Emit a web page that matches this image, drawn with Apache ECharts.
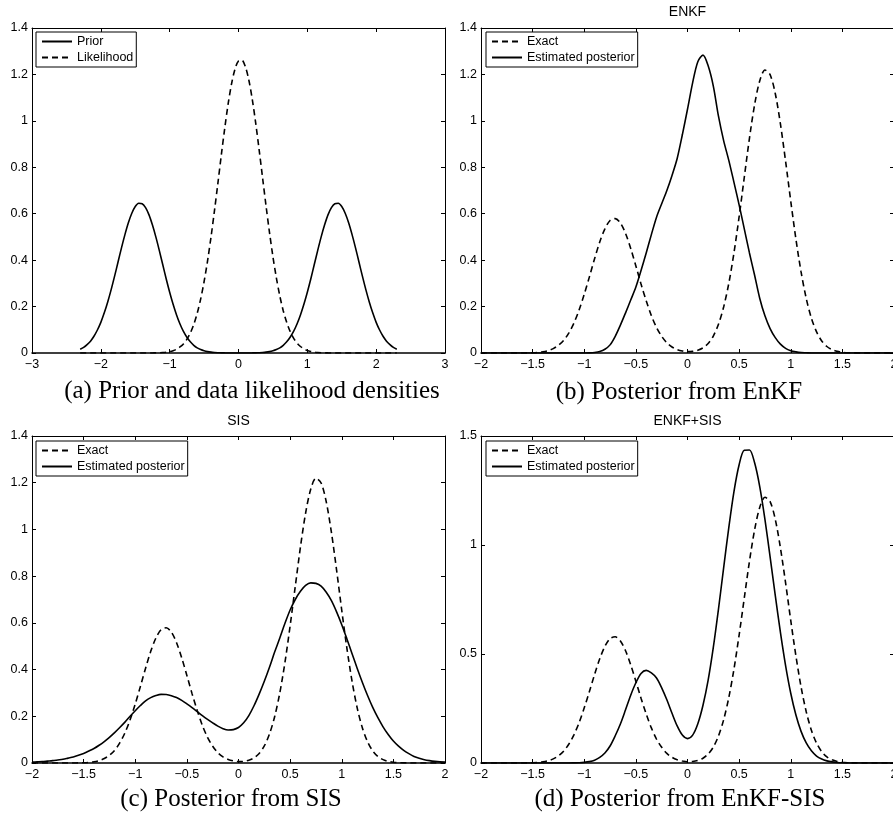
<!DOCTYPE html>
<html>
<head>
<meta charset="utf-8">
<script src="https://cdn.jsdelivr.net/npm/echarts@6/dist/echarts.min.js"></script>
<style>
  html, body { margin: 0; padding: 0; background: #fff; }
  #chart { width: 893px; height: 819px; }
</style>
</head>
<body>
<div id="chart"></div>
<script>
// panel (a): x grid, prior and likelihood densities
const xPrior = [-2.3, -2.25, -2.2, -2.15, -2.1, -2.05, -2.0, -1.95, -1.9, -1.85, -1.8, -1.75, -1.7, -1.65, -1.6,
  -1.55, -1.5, -1.45, -1.4, -1.35, -1.3, -1.25, -1.2, -1.15, -1.1, -1.05, -1.0, -0.95, -0.9, -0.85, -0.8, -0.75,
  -0.7, -0.65, -0.6, -0.55, -0.5, -0.45, -0.4, -0.35, -0.3, -0.25, -0.2, -0.15, -0.1, -0.05, 0, 0.05, 0.1, 0.15,
  0.2, 0.25, 0.3, 0.35, 0.4, 0.45, 0.5, 0.55, 0.6, 0.65, 0.7, 0.75, 0.8, 0.85, 0.9, 0.95, 1.0, 1.05, 1.1, 1.15,
  1.2, 1.25, 1.3, 1.35, 1.4, 1.45, 1.5, 1.55, 1.6, 1.65, 1.7, 1.75, 1.8, 1.85, 1.9, 1.95, 2.0, 2.05, 2.1, 2.15,
  2.2, 2.25, 2.3];
const prior = [0.016, 0.024, 0.036, 0.051, 0.072, 0.099, 0.132, 0.173, 0.220, 0.273,
  0.331, 0.392, 0.453, 0.510, 0.561, 0.602, 0.631, 0.645, 0.643, 0.626,
  0.595, 0.551, 0.499, 0.441, 0.380, 0.319, 0.262, 0.210, 0.164, 0.125,
  0.093, 0.068, 0.048, 0.033, 0.022, 0.0147, 0.0095, 0.0059, 0.0036, 0.0022,
  0.0013, 0.0007, 0.0004, 0.0002, 0.0001, 0.0001, 0,
  0.0001, 0.0001, 0.0002, 0.0004, 0.0007, 0.0013,
  0.0022, 0.0036, 0.0059, 0.0095, 0.0147, 0.022, 0.033, 0.048, 0.068, 0.093,
  0.125, 0.164, 0.210, 0.262, 0.319, 0.380, 0.441, 0.499, 0.551, 0.595,
  0.626, 0.643, 0.645, 0.631, 0.602, 0.561, 0.510, 0.453, 0.392, 0.331,
  0.273, 0.220, 0.173, 0.132, 0.099, 0.072, 0.051, 0.036, 0.024, 0.016];
const likelihood = [0, 0, 0, 0, 0, 0, 0, 0, 0, 0, 0, 0, 0, 0, 0, 0, 0, 0, 0, 0,
  0.0002, 0.0003, 0.0006, 0.0011, 0.002, 0.0035, 0.006, 0.010, 0.016, 0.026,
  0.039, 0.059, 0.086, 0.123, 0.171, 0.232, 0.307, 0.396, 0.498, 0.611,
  0.730, 0.852, 0.968, 1.074, 1.161, 1.224, 1.258, 1.261, 1.233, 1.176,
  1.093, 0.990, 0.875, 0.754, 0.634, 0.520, 0.415, 0.324, 0.246, 0.182,
  0.132, 0.093, 0.064, 0.043, 0.028, 0.018, 0.011, 0.0067, 0.004, 0.0023,
  0.0013, 0.0007, 0.0004, 0.0002,
  0, 0, 0, 0, 0, 0, 0, 0, 0, 0, 0, 0, 0, 0, 0, 0, 0, 0, 0];

// panels (b), (c), (d): shared x grid, exact posterior and the three estimates
const xPost = [-2.0, -1.95, -1.9, -1.85, -1.8, -1.75, -1.7, -1.65, -1.6, -1.55, -1.5, -1.45, -1.4, -1.35, -1.3,
  -1.25, -1.2, -1.15, -1.1, -1.05, -1.0, -0.95, -0.9, -0.85, -0.8, -0.75, -0.7, -0.65, -0.6, -0.55, -0.5, -0.45,
  -0.4, -0.35, -0.3, -0.25, -0.2, -0.15, -0.1, -0.05, 0, 0.05, 0.1, 0.15, 0.2, 0.25, 0.3, 0.35, 0.4, 0.45, 0.5,
  0.55, 0.6, 0.65, 0.7, 0.75, 0.8, 0.85, 0.9, 0.95, 1.0, 1.05, 1.1, 1.15, 1.2, 1.25, 1.3, 1.35, 1.4, 1.45, 1.5,
  1.55, 1.6, 1.65, 1.7, 1.75, 1.8, 1.85, 1.9, 1.95, 2.0];
const exact = [0, 0, 0, 0, 0, 0, 0,
  0.0001, 0.0002, 0.0005, 0.0012, 0.0026, 0.0053, 0.0102, 0.019, 0.033, 0.054,
  0.086, 0.129, 0.185, 0.253, 0.328, 0.406, 0.478, 0.535, 0.571, 0.579,
  0.560, 0.515, 0.450, 0.375, 0.297, 0.225, 0.161, 0.110, 0.072, 0.044,
  0.026, 0.015, 0.009, 0.006, 0.007, 0.012, 0.022, 0.041, 0.073, 0.124,
  0.198, 0.300, 0.431, 0.587, 0.757, 0.925, 1.070, 1.173, 1.219, 1.199,
  1.118, 0.987, 0.826, 0.654, 0.491, 0.349, 0.235, 0.150, 0.091, 0.052,
  0.028, 0.0145, 0.0071, 0.0033, 0.0014, 0.0006, 0.0002, 0.0001, 0, 0,
  0, 0, 0, 0];
const enkf = [0, 0, 0, 0, 0, 0, 0, 0, 0, 0, 0, 0, 0, 0, 0, 0, 0, 0, 0, 0, 0,
  0.0005, 0.002, 0.006, 0.016, 0.035, 0.072, 0.12, 0.173, 0.228, 0.284,
  0.355, 0.431, 0.51, 0.585, 0.643, 0.70, 0.765, 0.838, 0.94, 1.05,
  1.165, 1.255, 1.283, 1.237, 1.15, 1.02, 0.915, 0.83, 0.735, 0.638,
  0.535, 0.431, 0.335, 0.235, 0.16, 0.105, 0.066, 0.038, 0.02, 0.01,
  0.005, 0.002, 0.001, 0, 0, 0, 0, 0, 0, 0,
  0, 0, 0, 0, 0, 0, 0, 0, 0, 0];
const sis = [0.004, 0.005, 0.006, 0.008, 0.010, 0.013, 0.016, 0.021, 0.026, 0.033,
  0.041, 0.051, 0.062, 0.076, 0.092, 0.110, 0.130, 0.152, 0.175, 0.200,
  0.224, 0.246, 0.266, 0.280, 0.289, 0.294, 0.293, 0.288, 0.280, 0.268,
  0.253, 0.237, 0.220, 0.203, 0.187, 0.172, 0.158, 0.147, 0.141, 0.143,
  0.152, 0.172, 0.203, 0.245, 0.295, 0.35, 0.41, 0.475, 0.535, 0.598,
  0.655, 0.700, 0.735, 0.760, 0.771, 0.769, 0.757, 0.731, 0.695, 0.647,
  0.592, 0.531, 0.468, 0.405, 0.345, 0.289, 0.238, 0.194, 0.155, 0.122,
  0.094, 0.072, 0.054, 0.040, 0.028, 0.020, 0.014, 0.010, 0.007, 0.005,
  0.004];
const enkfSis = [0, 0, 0, 0, 0, 0, 0, 0, 0, 0, 0, 0, 0, 0, 0, 0, 0, 0,
  0.0005, 0.0012, 0.003, 0.0064, 0.013, 0.026, 0.046, 0.078, 0.125, 0.179,
  0.244, 0.311, 0.368, 0.411, 0.425, 0.413, 0.39, 0.345, 0.29, 0.228,
  0.17, 0.128, 0.112, 0.128, 0.18, 0.265, 0.38, 0.53, 0.706, 0.895,
  1.080, 1.245, 1.368, 1.435, 1.436, 1.377, 1.267, 1.118, 0.946, 0.769,
  0.599, 0.447, 0.320, 0.220, 0.145, 0.092, 0.056, 0.032, 0.018, 0.0097,
  0.005, 0.0024, 0.001, 0.0005,
  0, 0, 0, 0, 0, 0, 0, 0, 0];

const panelTitles = ['', 'ENKF', 'SIS', 'ENKF+SIS'];
const captions = ['(a) Prior and data likelihood densities', '(b) Posterior from EnKF',
  '(c) Posterior from SIS', '(d) Posterior from EnKF-SIS'];

const chart = echarts.init(document.getElementById('chart'), null, { renderer: 'canvas' });

const sans = 'Liberation Sans, Arial, sans-serif';
const grids = [
  { left: 32, top: 28, width: 413, height: 325, outerBoundsMode: 'none' },
  { left: 481, top: 28, width: 413, height: 325, outerBoundsMode: 'none' },
  { left: 32, top: 436, width: 413, height: 327, outerBoundsMode: 'none' },
  { left: 481, top: 436, width: 413, height: 327, outerBoundsMode: 'none' }
];
const xRange = [[-3, 3, 1], [-2, 2, 0.5], [-2, 2, 0.5], [-2, 2, 0.5]];
const yRange = [[0, 1.4, 0.2], [0, 1.4, 0.2], [0, 1.4, 0.2], [0, 1.5, 0.5]];

function fmt(v) {
  return String(parseFloat(v.toFixed(2))).replace('-', '\u2212');
}

const xAxes = [];
const yAxes = [];
grids.forEach(function (g, i) {
  ['bottom', 'top'].forEach(function (pos) {
    xAxes.push({
      type: 'value', gridIndex: i, position: pos,
      min: xRange[i][0], max: xRange[i][1], interval: xRange[i][2],
      axisLine: { onZero: false, lineStyle: { color: '#000', width: pos === 'bottom' ? 1.5 : 1 } },
      axisTick: { inside: true, length: 4, lineStyle: { color: '#000' } },
      axisLabel: { show: pos === 'bottom', margin: 5, color: '#000', fontSize: 12.5, fontFamily: sans, formatter: fmt },
      splitLine: { show: false }
    });
  });
  ['left', 'right'].forEach(function (pos) {
    yAxes.push({
      type: 'value', gridIndex: i, position: pos,
      min: yRange[i][0], max: yRange[i][1], interval: yRange[i][2],
      axisLine: { onZero: false, lineStyle: { color: '#000', width: 1 } },
      axisTick: { inside: true, length: 4, lineStyle: { color: '#000' } },
      axisLabel: { show: pos === 'left', margin: 4, color: '#000', fontSize: 12.5, fontFamily: sans, formatter: fmt },
      splitLine: { show: false }
    });
  });
});

function zip(xs, ys) {
  return xs.map(function (x, k) { return [x, ys[k]]; });
}

function curve(name, panel, xs, ys, dashed) {
  return {
    name: name, type: 'line',
    xAxisIndex: panel * 2, yAxisIndex: panel * 2,
    data: zip(xs, ys),
    symbol: 'none', showSymbol: false, smooth: 0.3,
    lineStyle: { color: '#000', width: 1.6, type: dashed ? [6, 4] : 'solid' },
    itemStyle: { color: '#000' },
    z: 3
  };
}

const series = [
  curve('Prior', 0, xPrior, prior, false),
  curve('Likelihood', 0, xPrior, likelihood, true),
  curve('Exact', 1, xPost, exact, true),
  curve('Estimated posterior', 1, xPost, enkf, false),
  curve('Exact', 2, xPost, exact, true),
  curve('Estimated posterior', 2, xPost, sis, false),
  curve('Exact', 3, xPost, exact, true),
  curve('Estimated posterior', 3, xPost, enkfSis, false)
];

function legendAt(left, top, names) {
  return {
    data: names, left: left, top: top, orient: 'vertical',
    itemWidth: 30, itemHeight: 10, itemGap: 3,
    padding: [3, 3, 3, 5],
    borderColor: '#000', borderWidth: 1, borderRadius: 0, backgroundColor: '#fff',
    selectedMode: false,
    itemStyle: { opacity: 0 },
    textStyle: { color: '#000', fontSize: 12.5, fontFamily: sans }
  };
}

const titles = [];
const titlePos = [null, [687.5, 12], [238.5, 421], [687.5, 421]];
panelTitles.forEach(function (t, i) {
  if (!t) return;
  titles.push({
    text: t, left: titlePos[i][0], top: titlePos[i][1], textAlign: 'center', textVerticalAlign: 'middle',
    padding: 0,
    textStyle: { color: '#000', fontSize: 14, fontWeight: 'normal', fontFamily: sans }
  });
});
const captionPos = [[252, 391], [679, 392], [231, 799], [680, 799]];
captions.forEach(function (t, i) {
  titles.push({
    text: t, left: captionPos[i][0], top: captionPos[i][1], textAlign: 'center', textVerticalAlign: 'middle',
    padding: 0,
    textStyle: { color: '#000', fontSize: 25, fontWeight: 'normal', fontFamily: 'Liberation Serif, Times New Roman, serif' }
  });
});

chart.setOption({
  animation: false,
  backgroundColor: '#fff',
  title: titles,
  grid: grids,
  xAxis: xAxes,
  yAxis: yAxes,
  legend: [
    legendAt(36, 32, ['Prior', 'Likelihood']),
    legendAt(486, 32, ['Exact', 'Estimated posterior']),
    legendAt(36, 441, ['Exact', 'Estimated posterior']),
    legendAt(486, 441, ['Exact', 'Estimated posterior'])
  ],
  series: series
});
</script>
</body>
</html>
